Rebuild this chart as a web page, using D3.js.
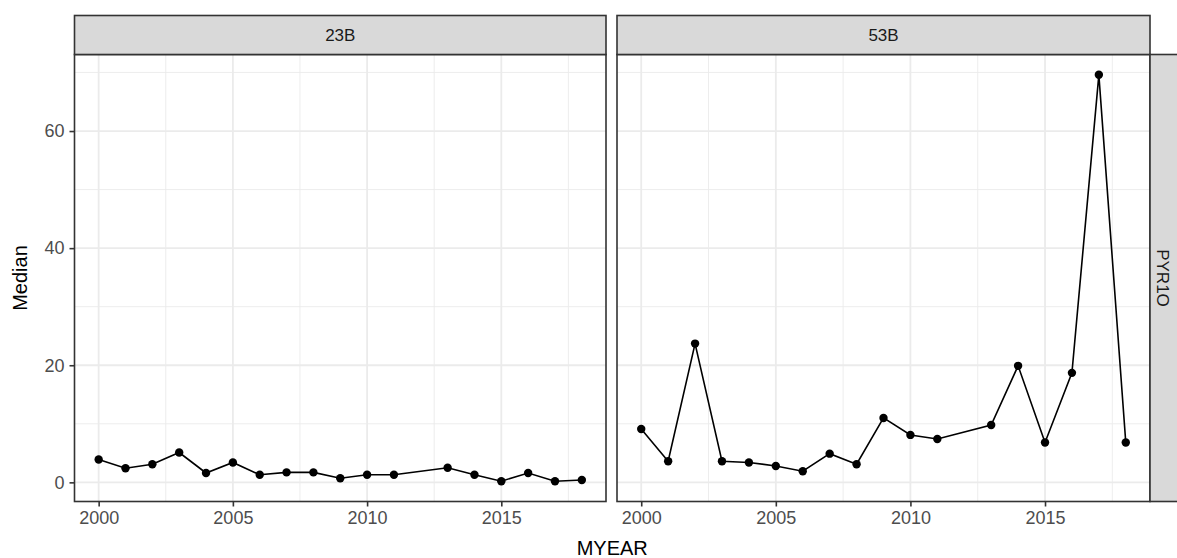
<!DOCTYPE html>
<html>
<head>
<meta charset="utf-8">
<script src="https://cdn.jsdelivr.net/npm/d3@7"></script>
<style>
  html, body { margin: 0; padding: 0; background: #ffffff; }
  svg { display: block; font-family: "Liberation Sans", Arial, sans-serif; }
</style>
</head>
<body>
<svg id="chart" width="1177" height="558"></svg>
<script>
// ---- data ----
const panels = ["23B", "53B"];
const rowLabel = "PYR1O";
const years23B = [2000, 2001, 2002, 2003, 2004, 2005, 2006, 2007, 2008, 2009, 2010, 2011, 2013, 2014, 2015, 2016, 2017, 2018];
const median23B = [3.9, 2.4, 3.1, 5.1, 1.6, 3.4, 1.3, 1.7, 1.7, 0.7, 1.3, 1.3, 2.5, 1.3, 0.2, 1.6, 0.2, 0.4];
const years53B = [2000, 2001, 2002, 2003, 2004, 2005, 2006, 2007, 2008, 2009, 2010, 2011, 2013, 2014, 2015, 2016, 2017, 2018];
const median53B = [9.1, 3.6, 23.7, 3.6, 3.4, 2.8, 1.9, 4.9, 3.1, 11.0, 8.1, 7.4, 9.8, 19.9, 6.8, 18.7, 69.6, 6.8];
const xTicks = [2000, 2005, 2010, 2015];
const xMinor = [2002.5, 2007.5, 2012.5, 2017.5];
const yTicks = [0, 20, 40, 60];
const yMinor = [10, 30, 50, 70];
const xTitle = "MYEAR";
const yTitle = "Median";

const series = [
  { name: panels[0], pts: years23B.map((y, i) => ({ x: y, v: median23B[i] })) },
  { name: panels[1], pts: years53B.map((y, i) => ({ x: y, v: median53B[i] })) }
];

// ---- layout ----
const svg = d3.select("#chart");
const panelTop = 54.5, panelBottom = 501.5;
const stripTop = 15.5;
const panelX = [[74.5, 606], [617, 1150]];
const rightStripW = 30;

const allY = median23B.concat(median53B);
const yMin = d3.min(allY), yMax = d3.max(allY);
const yPad = (yMax - yMin) * 0.05;
const y = d3.scaleLinear().domain([yMin - yPad, yMax + yPad]).range([panelBottom, panelTop]);

const allX = years23B.concat(years53B);
const xMin = d3.min(allX), xMax = d3.max(allX);
const xPad = (xMax - xMin) * 0.05;

const border = "#333333";
const gridMajor = "#ebebeb";
const tickFont = 18;
const stripFont = 17;
const titleFont = 20;

series.forEach((s, i) => {
  const [x0, x1] = panelX[i];
  const x = d3.scaleLinear().domain([xMin - xPad, xMax + xPad]).range([x0, x1]);
  const g = svg.append("g");

  g.append("rect").attr("x", x0).attr("y", panelTop).attr("width", x1 - x0).attr("height", panelBottom - panelTop).attr("fill", "#fff");

  // minor grid
  g.selectAll(".ymin").data(yMinor).enter().append("line")
    .attr("x1", x0).attr("x2", x1).attr("y1", d => y(d)).attr("y2", d => y(d))
    .attr("stroke", gridMajor).attr("stroke-width", 0.9);
  g.selectAll(".xmin").data(xMinor).enter().append("line")
    .attr("y1", panelTop).attr("y2", panelBottom).attr("x1", d => x(d)).attr("x2", d => x(d))
    .attr("stroke", gridMajor).attr("stroke-width", 0.9);
  // major grid
  g.selectAll(".ymaj").data(yTicks).enter().append("line")
    .attr("x1", x0).attr("x2", x1).attr("y1", d => y(d)).attr("y2", d => y(d))
    .attr("stroke", gridMajor).attr("stroke-width", 1.8);
  g.selectAll(".xmaj").data(xTicks).enter().append("line")
    .attr("y1", panelTop).attr("y2", panelBottom).attr("x1", d => x(d)).attr("x2", d => x(d))
    .attr("stroke", gridMajor).attr("stroke-width", 1.8);

  // line + points
  const line = d3.line().x(d => x(d.x)).y(d => y(d.v));
  g.append("path").datum(s.pts).attr("d", line).attr("fill", "none").attr("stroke", "#000").attr("stroke-width", 1.6);
  g.selectAll("circle").data(s.pts).enter().append("circle")
    .attr("cx", d => x(d.x)).attr("cy", d => y(d.v)).attr("r", 4.2).attr("fill", "#000");

  // panel border
  g.append("rect").attr("x", x0).attr("y", panelTop).attr("width", x1 - x0).attr("height", panelBottom - panelTop)
    .attr("fill", "none").attr("stroke", border).attr("stroke-width", 1.6);

  // top strip
  g.append("rect").attr("x", x0).attr("y", stripTop).attr("width", x1 - x0).attr("height", panelTop - stripTop)
    .attr("fill", "#d9d9d9").attr("stroke", border).attr("stroke-width", 1.6);
  g.append("text").attr("x", (x0 + x1) / 2).attr("y", (stripTop + panelTop) / 2).attr("dy", "0.35em")
    .attr("text-anchor", "middle").attr("font-size", stripFont).attr("fill", "#1a1a1a").text(s.name);

  // x axis
  const xa = g.append("g").attr("transform", `translate(0,${panelBottom})`)
    .call(d3.axisBottom(x).tickValues(xTicks).tickFormat(d3.format("d")).tickSize(5).tickPadding(5));
  xa.select(".domain").remove();
  xa.selectAll(".tick line").attr("stroke", border).attr("stroke-width", 1.6);
  xa.selectAll(".tick text").attr("font-size", tickFont).attr("fill", "#4d4d4d").attr("font-family", "Liberation Sans, Arial, sans-serif");

  if (i === 0) {
    const ya = g.append("g").attr("transform", `translate(${x0},0)`)
      .call(d3.axisLeft(y).tickValues(yTicks).tickFormat(d3.format("d")).tickSize(5).tickPadding(5));
    ya.select(".domain").remove();
    ya.selectAll(".tick line").attr("stroke", border).attr("stroke-width", 1.6);
    ya.selectAll(".tick text").attr("font-size", tickFont).attr("fill", "#4d4d4d").attr("font-family", "Liberation Sans, Arial, sans-serif");
  }

  if (i === series.length - 1) {
    g.append("rect").attr("x", x1).attr("y", panelTop).attr("width", rightStripW).attr("height", panelBottom - panelTop)
      .attr("fill", "#d9d9d9").attr("stroke", border).attr("stroke-width", 1.6);
    g.append("text").attr("transform", `translate(${x1 + 13},${(panelTop + panelBottom) / 2}) rotate(90)`)
      .attr("text-anchor", "middle").attr("dy", "0.35em").attr("font-size", stripFont).attr("fill", "#1a1a1a").text(rowLabel);
  }
});

// axis titles
svg.append("text").attr("x", (panelX[0][0] + panelX[1][1]) / 2).attr("y", 555)
  .attr("text-anchor", "middle").attr("font-size", titleFont).attr("fill", "#000").text(xTitle);
svg.append("text").attr("transform", `translate(20,${(panelTop + panelBottom) / 2}) rotate(-90)`)
  .attr("text-anchor", "middle").attr("dy", "0.35em").attr("font-size", titleFont).attr("fill", "#000").text(yTitle);
</script>
</body>
</html>
